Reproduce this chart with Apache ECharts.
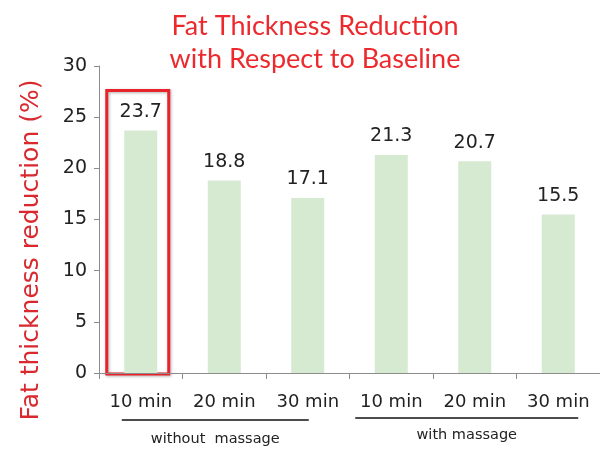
<!DOCTYPE html>
<html>
<head>
<meta charset="utf-8">
<script src="https://cdn.jsdelivr.net/npm/echarts@6/dist/echarts.min.js"></script>
<style>
html,body{margin:0;padding:0;background:#fff;}
#chart{width:600px;height:449px;}
</style>
</head>
<body>
<div id="chart"></div>
<script>
// Fat thickness reduction per session length, with and without massage
const categories = ['10 min', '20 min', '30 min', '10 min ', '20 min ', '30 min '];
const reduction = [23.7, 18.8, 17.1, 21.3, 20.7, 15.5];
const groupNames = ['without  massage', 'with massage'];
const groupFirst = [0, 3];
const groupLast = [2, 5];
const yTicks = [0, 5, 10, 15, 20, 25, 30];
const highlightIndex = 0;
const highlightTop = 27.6;

const chart = echarts.init(document.getElementById('chart'));
const titleRed = '#ec2a2e';
const nameRed = '#d9282e';
const axisGray = '#8c8c8c';
const textFont = 'DejaVu Sans';

chart.setOption({
  animation: false,
  title: {
    text: 'Fat Thickness Reduction\nwith Respect to Baseline',
    left: 310, top: 5, textAlign: 'center',
    textStyle: { color: titleRed, fontSize: 27, fontWeight: 'normal', fontFamily: 'Lato', lineHeight: 33 }
  },
  grid: { left: 99, right: 0, top: 66, bottom: 76 },
  xAxis: {
    type: 'category',
    data: categories,
    axisLine: { lineStyle: { color: axisGray, width: 1 } },
    axisTick: { show: true, length: 6, lineStyle: { color: axisGray } },
    axisLabel: { color: '#222', fontSize: 18, fontFamily: textFont, margin: 20,
      formatter: v => v.trim() }
  },
  yAxis: {
    type: 'value',
    min: yTicks[0], max: yTicks[yTicks.length - 1], interval: 5,
    axisLine: { show: true, lineStyle: { color: axisGray } },
    axisTick: { show: true, length: 5, lineStyle: { color: axisGray } },
    splitLine: { show: false },
    axisLabel: { color: '#222', fontSize: 19, fontFamily: textFont, margin: 12 }
  },
  series: [{
    type: 'bar',
    data: reduction,
    barWidth: 33,
    itemStyle: { color: '#d6e9d1' },
    label: { show: true, position: 'top', distance: 9, color: '#222', fontSize: 19, fontFamily: textFont,
      formatter: p => p.value.toFixed(1) }
  }]
});

// Axis title, group brackets with names, and the frame around the highlighted bar
function drawDecorations() {
  const elems = [];
  const toPx = (i, v) => chart.convertToPixel({ gridIndex: 0 }, [i, v]);
  const base = toPx(0, 0);
  const bracketPad = [[-19, 1], [-36, 20]];
  const nameDy = [66, 62];
  groupNames.forEach((name, k) => {
    const l = toPx(groupFirst[k], 0)[0] + bracketPad[k][0];
    const r = toPx(groupLast[k], 0)[0] + bracketPad[k][1];
    const y = base[1] + (k === 0 ? 47 : 45);
    elems.push({ type: 'line', shape: { x1: l, y1: y, x2: r, y2: y },
      style: { stroke: '#111', lineWidth: 1.3 } });
    elems.push({ type: 'text', x: (l + r) / 2, y: base[1] + nameDy[k],
      style: { text: name, fill: '#222', fontSize: 14.5, fontFamily: textFont, align: 'center', verticalAlign: 'middle' } });
  });
  elems.push({ type: 'text', x: 31, y: 250, rotation: Math.PI / 2,
    style: { text: 'Fat thickness reduction (%)', fill: nameRed, fontSize: 25, fontFamily: textFont,
      align: 'center', verticalAlign: 'middle' } });
  const c = toPx(highlightIndex, highlightTop);
  elems.push({ type: 'rect', shape: { x: c[0] - 34, y: c[1], width: 62, height: base[1] + 1 - c[1] },
    style: { fill: 'none', stroke: '#e8232b', lineWidth: 3, shadowBlur: 3, shadowColor: 'rgba(0,0,0,0.3)', shadowOffsetX: 1, shadowOffsetY: 1 } });
  chart.setOption({ graphic: { elements: elems } });
}
drawDecorations();
</script>
</body>
</html>
